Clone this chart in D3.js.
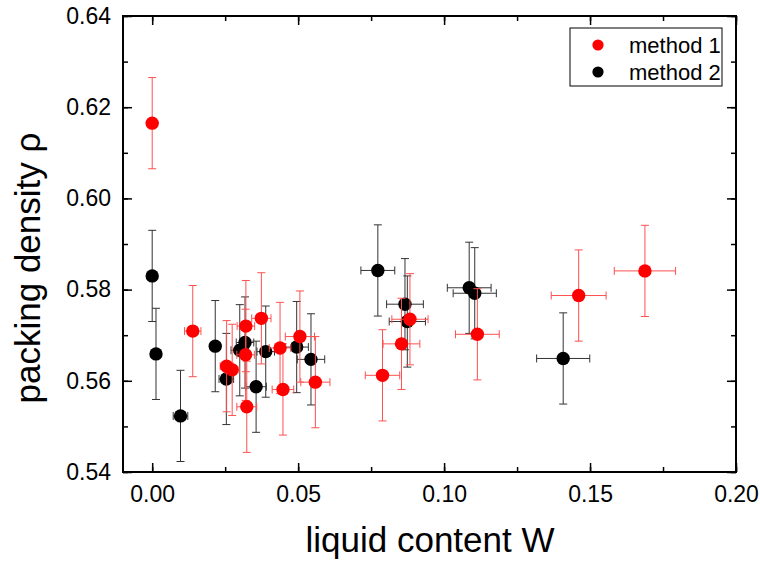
<!DOCTYPE html>
<html>
<head>
<meta charset="utf-8">
<script src="https://cdn.jsdelivr.net/npm/d3@7"></script>
<style>
  body { margin: 0; background: #fff; }
  svg { font-family: "Liberation Sans", Arial, sans-serif; }
</style>
</head>
<body>
<svg id="chart"></svg>
<script>
// method 1 (red)
const m1W    = [0.000, 0.0139, 0.0255, 0.0274, 0.0321, 0.0320, 0.0324, 0.0374, 0.0438, 0.0448, 0.0506, 0.0559, 0.0789, 0.0854, 0.0883, 0.1114, 0.1461, 0.1688];
const m1Rho  = [0.6165, 0.5709, 0.5632, 0.5624, 0.5720, 0.5657, 0.5543, 0.5737, 0.5672, 0.5581, 0.5697, 0.5597, 0.5612, 0.5681, 0.5735, 0.5702, 0.5787, 0.5841];
const m1WErr = [0, 0.0028, 0.0022, 0.0024, 0.0030, 0.0030, 0.0034, 0.0033, 0.0037, 0.0037, 0.0050, 0.0050, 0.0059, 0.0063, 0.0062, 0.0075, 0.0094, 0.0105];
const m1RErr = [0.010, 0.010, 0.010, 0.010, 0.010, 0.010, 0.010, 0.010, 0.010, 0.010, 0.010, 0.010, 0.010, 0.010, 0.010, 0.010, 0.010, 0.010];

// method 2 (black)
const m2W    = [0.000, 0.0013, 0.0097, 0.0216, 0.0254, 0.0300, 0.0318, 0.0356, 0.0389, 0.0495, 0.0544, 0.0773, 0.0866, 0.0874, 0.1086, 0.1105, 0.1408];
const m2Rho  = [0.5830, 0.5659, 0.5523, 0.5676, 0.5604, 0.5667, 0.5684, 0.5587, 0.5664, 0.5674, 0.5647, 0.5842, 0.5768, 0.5730, 0.5804, 0.5792, 0.5649];
const m2WErr = [0, 0.0006, 0.0025, 0.0017, 0.0025, 0.0030, 0.0030, 0.0035, 0.0030, 0.0040, 0.0047, 0.0058, 0.0063, 0.0062, 0.0075, 0.0074, 0.0091];
const m2RErr = [0.010, 0.010, 0.010, 0.010, 0.010, 0.010, 0.010, 0.010, 0.010, 0.010, 0.010, 0.010, 0.010, 0.010, 0.010, 0.010, 0.010];

const xTicks = [0.00, 0.05, 0.10, 0.15, 0.20];
const yTicks = [0.54, 0.56, 0.58, 0.60, 0.62, 0.64];

const width = 760, height = 562;
const margin = {top: 16, right: 24, bottom: 90, left: 123};
const w = width - margin.left - margin.right;
const h = height - margin.top - margin.bottom;

const svg = d3.select('#chart')
  .attr('width', width)
  .attr('height', height);

const g = svg.append('g')
  .attr('transform', `translate(${margin.left},${margin.top})`);

const x = d3.scaleLinear().domain([-0.01, 0.20]).range([0, w]);
const y = d3.scaleLinear().domain([0.54, 0.64]).range([h, 0]);

// minor ticks
const xMinor = d3.range(0, 0.2001, 0.025);
const yMinor = d3.range(0.54, 0.6401, 0.01);

function drawAxis(axis, transform, showLabels) {
  const a = g.append('g').attr('transform', transform).call(axis);
  a.select('.domain').remove();
  a.selectAll('line').attr('stroke', '#000').attr('stroke-width', 1.5);
  if (!showLabels) a.selectAll('text').remove();
  a.selectAll('text').attr('font-size', 23).attr('fill', '#000');
  return a;
}

// minor
drawAxis(d3.axisBottom(x).tickValues(xMinor).tickSize(-5).tickFormat(''), `translate(0,${h})`, false);
drawAxis(d3.axisTop(x).tickValues(xMinor).tickSize(-5).tickFormat(''), 'translate(0,0)', false);
drawAxis(d3.axisLeft(y).tickValues(yMinor).tickSize(-5).tickFormat(''), 'translate(0,0)', false);
drawAxis(d3.axisRight(y).tickValues(yMinor).tickSize(-5).tickFormat(''), `translate(${w},0)`, false);

// major
drawAxis(d3.axisBottom(x).tickValues(xTicks).tickSize(-9).tickPadding(14).tickFormat(d3.format('.2f')), `translate(0,${h})`, true);
drawAxis(d3.axisTop(x).tickValues(xTicks).tickSize(-9), 'translate(0,0)', false);
drawAxis(d3.axisLeft(y).tickValues(yTicks).tickSize(-9).tickPadding(12).tickFormat(d3.format('.2f')), 'translate(0,0)', true);
drawAxis(d3.axisRight(y).tickValues(yTicks).tickSize(-9), `translate(${w},0)`, false);

// frame
g.append('rect')
  .attr('x', 0).attr('y', 0)
  .attr('width', w).attr('height', h)
  .attr('fill', 'none')
  .attr('stroke', '#000')
  .attr('stroke-width', 2);

const series = [
  {name: 'method 2', W: m2W, rho: m2Rho, wErr: m2WErr, rErr: m2RErr, color: '#000', barColor: '#333'},
  {name: 'method 1', W: m1W, rho: m1Rho, wErr: m1WErr, rErr: m1RErr, color: '#ff0000', barColor: '#ff5050'}
];

const cap = 4;
series.forEach(function(s) {
  const pts = s.W.map((d, i) => ({W: d, rho: s.rho[i], we: s.wErr[i], re: s.rErr[i]}));
  const eb = g.append('g')
    .attr('stroke', s.barColor)
    .attr('stroke-width', 1)
    .attr('fill', 'none');

  pts.forEach(function(p) {
    const cx = x(p.W), cy = y(p.rho);
    const y0 = y(p.rho - p.re), y1 = y(p.rho + p.re);
    eb.append('line').attr('x1', cx).attr('x2', cx).attr('y1', y0).attr('y2', y1);
    eb.append('line').attr('x1', cx - cap).attr('x2', cx + cap).attr('y1', y0).attr('y2', y0);
    eb.append('line').attr('x1', cx - cap).attr('x2', cx + cap).attr('y1', y1).attr('y2', y1);
    if (p.we > 0) {
      const x0 = x(p.W - p.we), x1 = x(p.W + p.we);
      eb.append('line').attr('x1', x0).attr('x2', x1).attr('y1', cy).attr('y2', cy);
      eb.append('line').attr('x1', x0).attr('x2', x0).attr('y1', cy - cap).attr('y2', cy + cap);
      eb.append('line').attr('x1', x1).attr('x2', x1).attr('y1', cy - cap).attr('y2', cy + cap);
    }
  });

  g.append('g').selectAll('circle')
    .data(pts)
    .enter()
    .append('circle')
    .attr('cx', d => x(d.W))
    .attr('cy', d => y(d.rho))
    .attr('r', 6.7)
    .attr('fill', s.color);
});

// legend
const legend = svg.append('g').attr('transform', 'translate(570,28)');
legend.append('rect')
  .attr('width', 152).attr('height', 58)
  .attr('fill', '#fff')
  .attr('stroke', '#000')
  .attr('stroke-width', 1);

const legendItems = [{name: 'method 1', color: '#ff0000'}, {name: 'method 2', color: '#000'}];
legendItems.forEach(function(d, i) {
  legend.append('circle')
    .attr('cx', 28).attr('cy', 17 + i * 27)
    .attr('r', 5.6)
    .attr('fill', d.color);
  legend.append('text')
    .attr('x', 59).attr('y', 17 + i * 27)
    .attr('dy', '0.36em')
    .attr('font-size', 22)
    .text(d.name);
});

// axis titles
svg.append('text')
  .attr('x', 430).attr('y', 552)
  .attr('text-anchor', 'middle')
  .attr('font-size', 35)
  .text('liquid content W');

svg.append('text')
  .attr('transform', 'translate(40,268) rotate(-90)')
  .attr('text-anchor', 'middle')
  .attr('font-size', 35)
  .text('packing density ρ');
</script>
</body>
</html>
